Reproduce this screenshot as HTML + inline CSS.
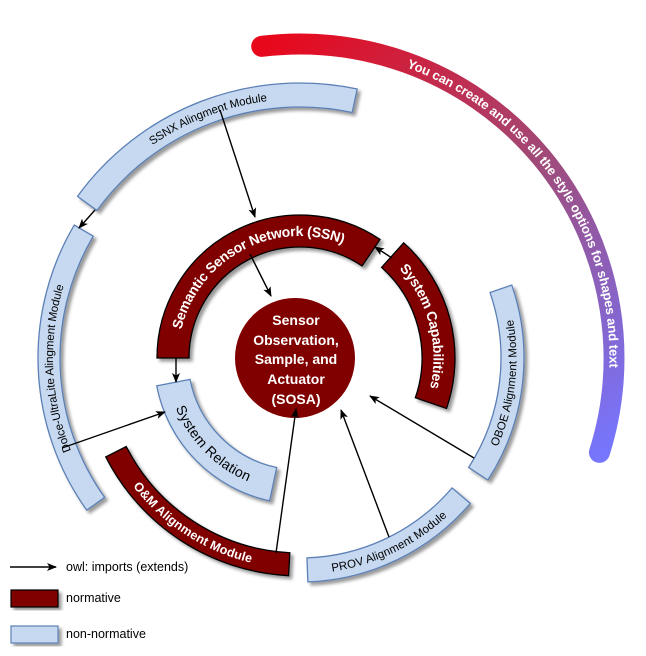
<!DOCTYPE html>
<html><head><meta charset="utf-8"><style>
html,body{margin:0;padding:0;background:#fff;}
svg{display:block;font-family:"Liberation Sans","DejaVu Sans",sans-serif;}
</style></head><body>
<svg width="646" height="656" viewBox="0 0 646 656" xmlns="http://www.w3.org/2000/svg">
<defs>
<filter id="sh" x="-20%" y="-20%" width="140%" height="140%"><feDropShadow dx="3" dy="3" stdDeviation="1.5" flood-color="#000" flood-opacity="0.4"/></filter>
<marker id="ar" markerWidth="10" markerHeight="8" refX="9" refY="4" orient="auto" markerUnits="userSpaceOnUse"><path d="M0,0 L10,4 L0,8 L2.5,4 Z" fill="#000"/></marker>
<linearGradient id="gr" gradientUnits="userSpaceOnUse" x1="262" y1="50" x2="610" y2="450"><stop offset="0" stop-color="#e8081c"/><stop offset="0.5" stop-color="#a04a78"/><stop offset="1" stop-color="#7676ff"/></linearGradient>
<path id="tAnn" d="M261.72,46.35 A314,314 0 0 1 599.46,452.42"/>
<path id="tSSN" d="M173,358 A127,127 0 0 1 371.02,252.72"/>
<path id="tSC" d="M392.67,255.08 A138.5,138.5 0 0 1 430.95,403.10"/>
<path id="tSR" d="M173.37,382.61 A129,129 0 0 0 273.18,484.17"/>
<path id="tSSNX" d="M87.23,203.41 A263,263 0 0 1 354.68,100.76"/>
<path id="tDol" d="M95.66,503.76 A251,251 0 0 1 83.74,230.62"/>
<path id="tOM" d="M116.01,451.75 A206.5,206.5 0 0 0 289.20,564.21"/>
<path id="tPROV" d="M307.40,569.87 A212,212 0 0 0 461.20,495.67"/>
<path id="tOBOE" d="M478.22,473.73 A212.5,212.5 0 0 0 500.92,288.81"/>
</defs>

<path d="M261.72,46.35 A314,314 0 0 1 599.46,452.42" fill="none" stroke="url(#gr)" stroke-width="21" stroke-linecap="round"/>
<text font-size="13" font-weight="bold" fill="#fff" dy="4.5"><textPath href="#tAnn" startOffset="55%" text-anchor="middle">You can create and use all the style options for shapes and text</textPath></text>

<g filter="url(#sh)">
<path d="M77.52,196.35 A275,275 0 0 1 357.17,89.02 L352.18,112.50 A251,251 0 0 0 96.94,210.46 Z" fill="#c6d9f0" stroke="#5b80b6" stroke-width="1.3"/>
<path d="M86.71,510.14 A262,262 0 0 1 74.26,225.03 L93.22,236.20 A240,240 0 0 0 104.62,497.37 Z" fill="#c6d9f0" stroke="#5b80b6" stroke-width="1.3"/>
<path d="M487.87,479.99 A224,224 0 0 0 511.79,285.07 L490.05,292.55 A201,201 0 0 1 468.58,467.46 Z" fill="#c6d9f0" stroke="#5b80b6" stroke-width="1.3"/>
<path d="M307.82,581.87 A224,224 0 0 0 470.33,503.47 L452.08,487.88 A200,200 0 0 1 306.98,557.88 Z" fill="#c6d9f0" stroke="#5b80b6" stroke-width="1.3"/>
<path d="M156.69,385.86 A146,146 0 0 0 269.65,500.80 L276.72,467.55 A112,112 0 0 1 190.06,379.37 Z" fill="#c6d9f0" stroke="#5b80b6" stroke-width="1.3"/>
<path d="M105.76,456.97 A218,218 0 0 0 288.60,575.69 L289.80,552.73 A195,195 0 0 1 126.25,446.53 Z" fill="#800000" stroke="#000" stroke-width="1.3"/>
<path d="M157,358 A143,143 0 0 1 379.97,239.45 L362.07,265.98 A111,111 0 0 0 189,358 Z" fill="#800000" stroke="#000" stroke-width="1.3"/>
<path d="M403.71,242.82 A155,155 0 0 1 446.55,408.47 L415.35,397.72 A122,122 0 0 0 381.63,267.34 Z" fill="#800000" stroke="#000" stroke-width="1.3"/>
</g>
<circle cx="295" cy="358" r="60" fill="#800000"/>

<g font-size="14" font-weight="bold" fill="#fff">
<text dy="5"><textPath href="#tSSN" startOffset="50%" text-anchor="middle">Semantic Sensor Network (SSN)</textPath></text>
<text dy="5"><textPath href="#tSC" startOffset="50%" text-anchor="middle">System Capabilities</textPath></text>
</g>
<text font-size="12.5" fill="#fff" font-weight="bold" dy="4"><textPath href="#tOM" startOffset="50%" text-anchor="middle">O&amp;M Alignment Module</textPath></text>
<text font-size="14" fill="#000" dy="5"><textPath href="#tSR" startOffset="50%" text-anchor="middle">System Relation</textPath></text>
<g font-size="11.5" fill="#000">
<text dy="4"><textPath href="#tSSNX" startOffset="50%" text-anchor="middle">SSNX Alingment Module</textPath></text>
<text dy="4"><textPath href="#tDol" startOffset="50%" text-anchor="middle">Dolce-UltraLite Alingment Module</textPath></text>
<text dy="4"><textPath href="#tOBOE" startOffset="50%" text-anchor="middle">OBOE Alignment Module</textPath></text>
<text dy="4"><textPath href="#tPROV" startOffset="50%" text-anchor="middle">PROV Alignment Module</textPath></text>
</g>

<g font-size="14" font-weight="bold" fill="#fff" text-anchor="middle">
<text x="296" y="325">Sensor</text>
<text x="296" y="345">Observation,</text>
<text x="296" y="364">Sample, and</text>
<text x="296" y="384">Actuator</text>
<text x="296" y="404">(SOSA)</text>
</g>

<g stroke="#000" stroke-width="1.4" marker-end="url(#ar)">
<line x1="220" y1="110" x2="255" y2="217"/>
<line x1="95" y1="210" x2="79" y2="228"/>
<line x1="250" y1="254" x2="271" y2="296"/>
<line x1="392" y1="258" x2="375" y2="247"/>
<line x1="176" y1="358" x2="176" y2="382"/>
<line x1="62" y1="448" x2="165" y2="412"/>
<line x1="276" y1="553" x2="296" y2="409"/>
<line x1="389" y1="537" x2="341" y2="410"/>
<line x1="474" y1="458" x2="370" y2="396"/>
<line x1="10" y1="567" x2="56" y2="567"/>
</g>
<text x="66" y="571" font-size="12.5" fill="#000">owl:  imports (extends)</text>
<rect x="11" y="590" width="47" height="17" fill="#800000" stroke="#000" stroke-width="1.2" filter="url(#sh)"/>
<text x="66" y="602" font-size="12.5" fill="#000">normative</text>
<rect x="11" y="626" width="47" height="17" fill="#c6d9f0" stroke="#5b80b6" stroke-width="1.2" filter="url(#sh)"/>
<text x="66" y="638" font-size="12.5" fill="#000">non-normative</text>
</svg>
</body></html>
